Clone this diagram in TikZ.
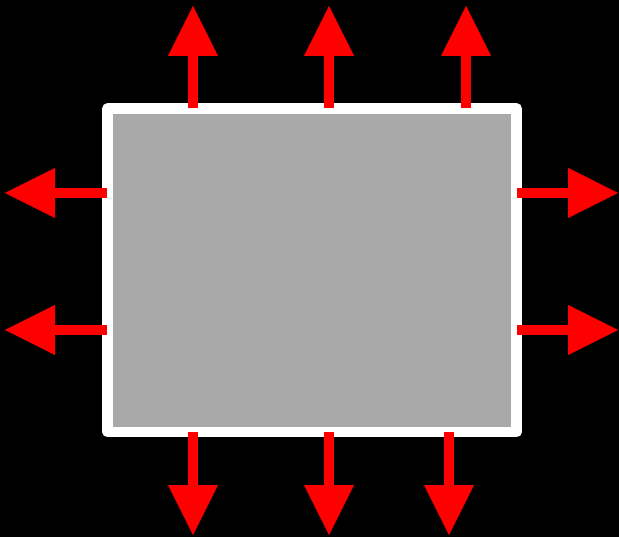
\documentclass[tikz,border=0pt]{standalone}
\usepackage{xcolor}
\usetikzlibrary{arrows.meta,calc,positioning}
\definecolor{panelgray}{HTML}{A9A9A9}
\definecolor{arrowred}{HTML}{FF0000}
\tikzset{%
	panel/.style    = {draw=white, fill=panelgray, line width=10.5pt, line join=round, rectangle, inner sep=0pt, outer sep=0pt, minimum width=409.25pt, minimum height=323.5pt},
	outarrow/.style = {draw=arrowred, line width=10pt, -{Triangle[length=50pt,width=50pt,line width=0.01pt]}},
}
\begin{document}
\begin{tikzpicture}[x=1pt, y=-1pt]
		\fill[black] (0,0) rectangle (619,537);
		\useasboundingbox (0,0) rectangle (619,537);
		\node[panel] (board) at (312.1,270.25) {};
		
		% tips above the board
		\coordinate (up1) at (193,6);
		\coordinate (up2) at (329,6);
		\coordinate (up3) at (466,6);
		% tips below the board
		\coordinate (down1) at (193,535);
		\coordinate (down2) at (329,535);
		\coordinate (down3) at (449,535);
		% tips at the sides
		\coordinate (left1) at (5,193);
		\coordinate (left2) at (5,330);
		\coordinate (right1) at (618,193);
		\coordinate (right2) at (618,330);
		
		\draw[outarrow] (up1 |- board.north) -- (up1);
		\draw[outarrow] (up2 |- board.north) -- (up2);
		\draw[outarrow] (up3 |- board.north) -- (up3);
		\draw[outarrow] (down1 |- board.south) -- (down1);
		\draw[outarrow] (down2 |- board.south) -- (down2);
		\draw[outarrow] (down3 |- board.south) -- (down3);
		\draw[outarrow] (left1 -| board.west) -- (left1);
		\draw[outarrow] (left2 -| board.west) -- (left2);
		\draw[outarrow] (right1 -| board.east) -- (right1);
		\draw[outarrow] (right2 -| board.east) -- (right2);
\end{tikzpicture}
\end{document}
